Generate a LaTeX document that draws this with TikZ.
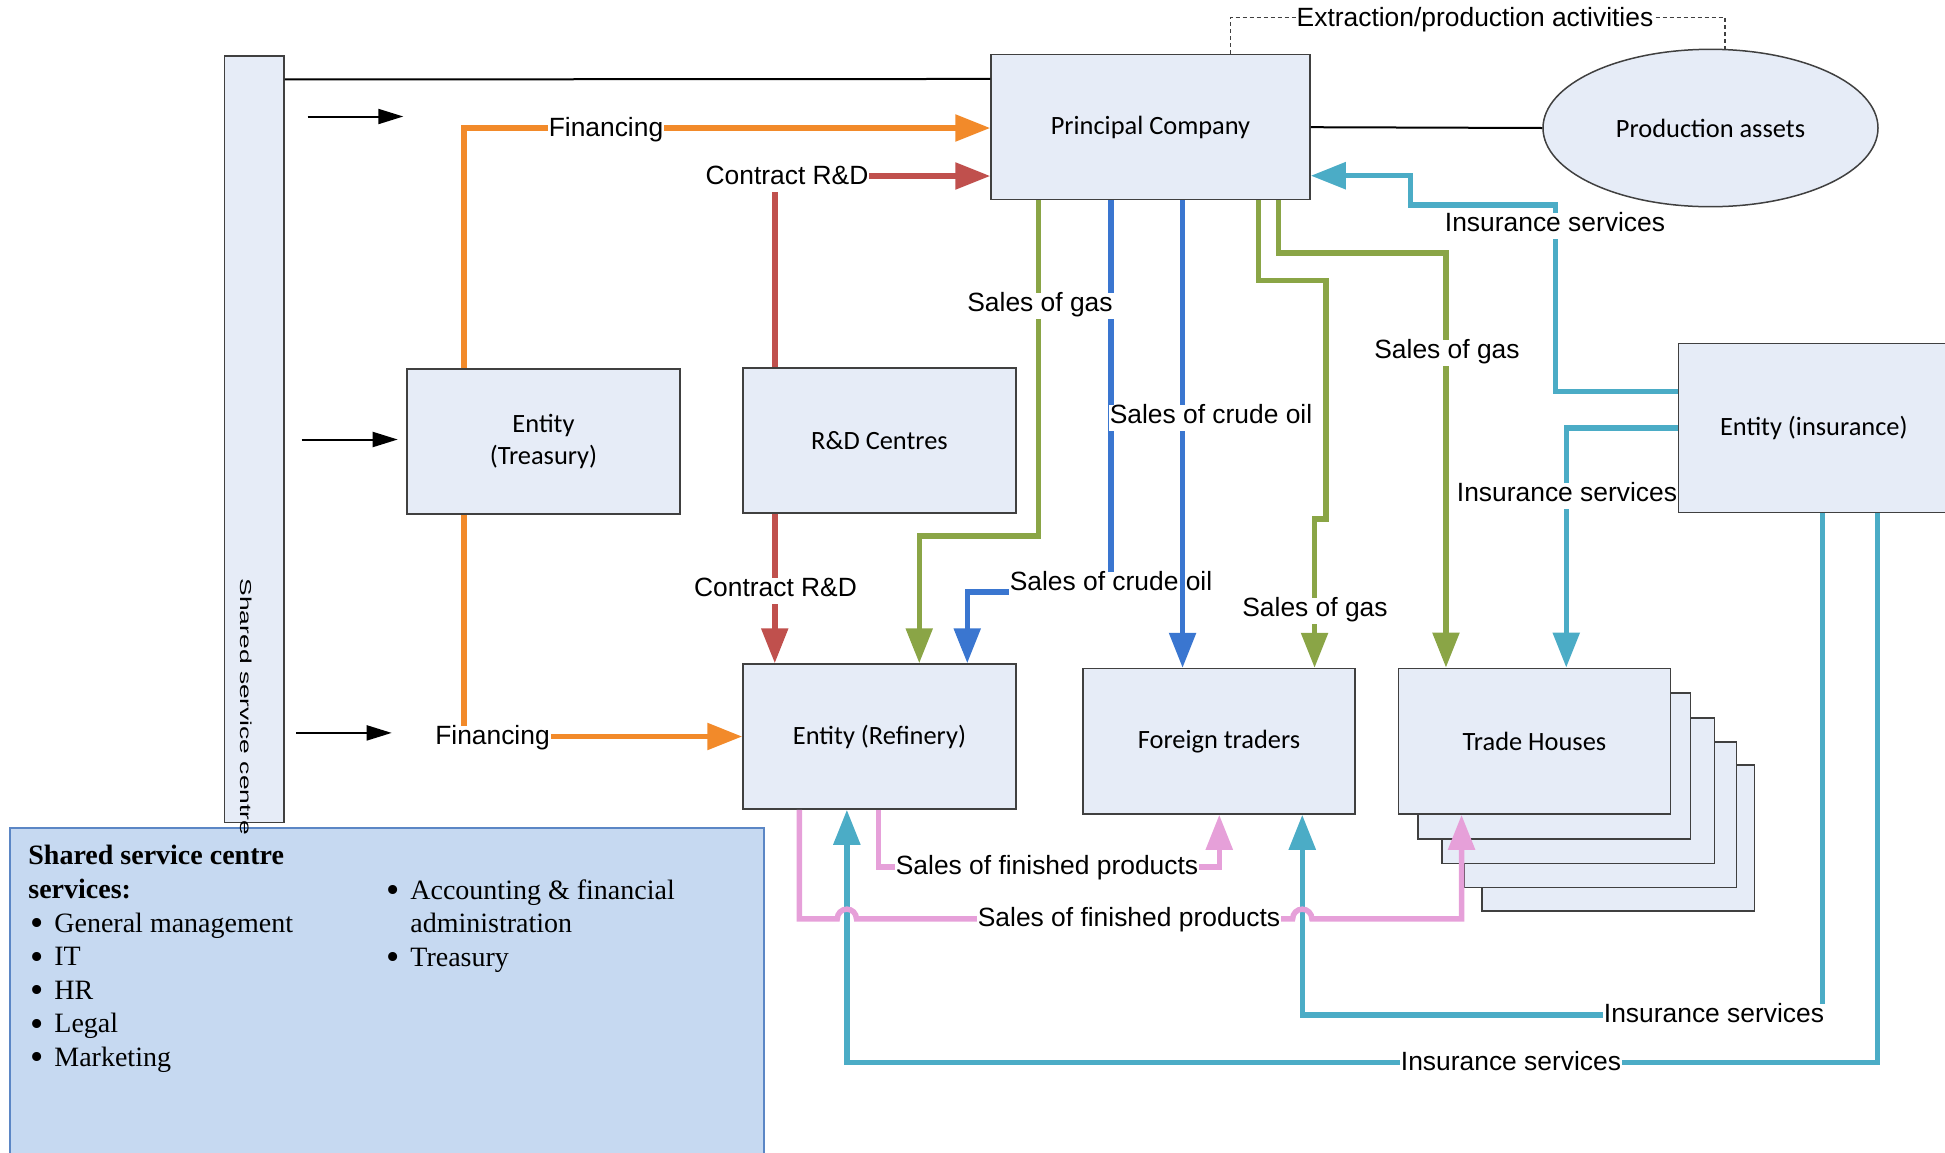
\documentclass[tikz,border=0pt]{standalone}
\usepackage{fontspec}
\setmainfont{Liberation Serif}
\newfontfamily\lblfont{Liberation Sans}
\newfontfamily\boxfont{Carlito}
\usetikzlibrary{arrows.meta,calc,shapes.geometric}
\definecolor{boxfill}{HTML}{E6ECF7}
\definecolor{boxline}{HTML}{404040}
\definecolor{cfin}{HTML}{F28A2A}
\definecolor{crnd}{HTML}{C0504D}
\definecolor{cgas}{HTML}{8AA546}
\definecolor{coil}{HTML}{3A76D0}
\definecolor{cins}{HTML}{4BACC6}
\definecolor{cfp}{HTML}{E6A0D9}
\definecolor{sscfill}{HTML}{C6D9F1}
\definecolor{sscline}{HTML}{5B86C5}
\newcommand\sscb{\hspace*{1pt}\makebox[12pt][l]{\smash{\raisebox{-1.7pt}{\scalebox{1.35}{\textbullet}}}}}
\begin{document}
\begin{tikzpicture}[x=0.5pt,y=-0.5pt,
  box/.style={draw=boxline, line width=0.75pt, fill=boxfill, inner sep=0pt, align=center,
    font=\boxfont\fontsize{13.2}{15.8}\selectfont},
  lbl/.style={fill=white, inner xsep=0.5pt, inner ysep=2pt, text height=0.72em, text depth=0.2em,
    font=\lblfont\fontsize{13.2}{15.8}\selectfont},
  conn/.style={line width=2.75pt, -{Triangle[length=17.5pt,width=13pt]}},
  fin/.style={conn, draw=cfin},
  rnd/.style={conn, draw=crnd},
  gas/.style={conn, draw=cgas},
  oil/.style={conn, draw=coil},
  ins/.style={conn, draw=cins},
  fp/.style={conn, draw=cfp},
  blk/.style={line width=1pt, -{Triangle[length=12.5pt,width=7.5pt]}},
  thinln/.style={line width=1pt, draw=black},
  dsh/.style={line width=0.6pt, draw=boxline, dash pattern=on 2pt off 1.5pt}
]
\useasboundingbox (0,0) rectangle (1945,1152);

% shapes
\node[box, minimum width=29.75pt, minimum height=383.3pt] (bar) at (254.25,439.1) {};
\node[box, minimum width=159.5pt, minimum height=72.5pt] (pc) at (1150.5,127.2) {Principal Company};
\node[ellipse, draw=boxline, line width=0.75pt, fill=boxfill, inner sep=0pt,
  minimum width=167.5pt, minimum height=78.7pt, font=\boxfont\fontsize{13.2}{15.8}\selectfont] (pa) at (1710.5,128) {Production assets};
\node[box, minimum width=136.5pt, minimum height=72.5pt] (treas) at (543.5,441.5) {Entity\\(Treasury)};
\node[box, minimum width=136.5pt, minimum height=72.5pt] (rd) at (879.5,440.5) {R\&D Centres};
\node[box, minimum width=136.5pt, minimum height=72.5pt] (ref) at (879.5,736.5) {Entity (Refinery)};
\node[box, minimum width=136pt, minimum height=72.7pt] (ft) at (1219,741.3) {Foreign traders};
\node[box, anchor=north west, minimum width=136.2pt, minimum height=72.85pt] (th5) at (1481.3,764.3) {};
\node[box, anchor=north west, minimum width=136.2pt, minimum height=72.85pt] (th4) at (1463.5,741) {};
\node[box, anchor=north west, minimum width=136.2pt, minimum height=72.85pt] (th3) at (1441.3,717) {};
\node[box, anchor=north west, minimum width=136.2pt, minimum height=72.85pt] (th2) at (1417.3,692.3) {};
\node[box, minimum width=136.2pt, minimum height=72.85pt] (th) at (1534.5,741.2) {Trade Houses};
\node[box, minimum width=135.5pt, minimum height=84.5pt] (ins) at (1813.8,428.2) {Entity (insurance)};

% shared service centre box
\node[draw=sscline, line width=1pt, fill=sscfill, anchor=north west, inner sep=0pt,
  minimum width=376.85pt, minimum height=166.4pt] (ssc) at (9,827.3) {};
\node[anchor=north west, inner sep=0pt, align=left, font=\fontsize{14}{16.8}\selectfont] (sscl) at (28,845) {%
\textbf{Shared service centre}\\
\textbf{services:}\\
\sscb General management\\
\sscb IT\\
\sscb HR\\
\sscb Legal\\
\sscb Marketing};
\node[anchor=north west, inner sep=0pt, align=left, font=\fontsize{14}{16.8}\selectfont] (sscr) at (384,879) {%
\sscb Accounting \& financial\\
\hspace*{13pt}administration\\
\sscb Treasury};
\node[inner sep=0pt, rotate=-90, font=\lblfont\fontsize{13.2}{15}\selectfont] (bartxt) at (246,707) {\scalebox{1}[0.6]{Shared service centre}};

% thin lines
\draw[thinln] ($(bar.north east)+(0,24.4)$) -- ($(pc.north west)+(0,25)$);
\draw[thinln] (pc.east) -- (pa.west);
\draw[dsh] ($(pc.north west)+(240,0)$) -- ++(0,-36.6) -| ($(pa.north)+(14.5,0)$);

% black arrows from the bar
\coordinate (a1s) at (307.7,116.5); \coordinate (a1e) at (403.3,116.5);
\coordinate (a2s) at (301.7,439.5); \coordinate (a2e) at (397.7,439.5);
\coordinate (a3s) at (296,732.9);   \coordinate (a3e) at (391.7,732.9);
\draw[blk] (a1s) -- (a1e);
\draw[blk] (a2s) -- (a2e);
\draw[blk] (a3s) -- (a3e);

% connectors
\draw[fin] ($(treas.north west)+(57.5,0)$) |- ($(pc.west)+(0,0.8)$);
\draw[rnd] ($(rd.north west)+(32.5,0)$) |- ($(pc.west)+(0,48.8)$);
\draw[fin] ($(treas.south west)+(57.5,0)$) |- (ref.west);
\draw[rnd] ($(rd.south west)+(32.5,0)$) -- ($(ref.north west)+(32.5,0)$);
\draw[gas] ($(pc.south west)+(48.3,0)$) -- ++(0,335.5) -| ($(ref.north west)+(177,0)$);
\draw[oil] ($(pc.south west)+(120.7,0)$) -- ++(0,391.5) -| ($(ref.north west)+(225,0)$);
\draw[gas] ($(pc.south west)+(268.3,0)$) -- ++(0,80) -- ++(67.4,0) -- ++(0,238.3) -| ($(ft.north west)+(232.3,0)$);
\draw[gas] ($(pc.south west)+(288.3,0)$) -- ++(0,52.3) -| ($(th.north west)+(48.4,0)$);
\draw[ins] ($(ins.west)+(0,-36.9)$) -- ++(-122.3,0) -- ++(0,-186.3) -- ++(-145,0) |- ($(pc.east)+(0,48.5)$);
\draw[ins] (ins.west) -| ($(th.north west)+(168.7,0)$);
\draw[ins] ($(ins.south west)+(144.7,0)$) -- ++(0,501.6) -| ($(ft.south west)+(220,0)$);
\draw[ins] ($(ins.south west)+(200,0)$) -- ++(0,549) -| ($(ref.south west)+(104.6,0)$);
\draw[fp] ($(ref.south west)+(136,0)$) -- ++(0,57.25) -| ($(ft.south west)+(137,0)$);
\draw[fp] ($(ref.south west)+(57,0)$) -- ++(0,109) -- ++(38,0)
   arc[start angle=180,end angle=0,radius=4.8pt] -- ++(436.2,0)
   arc[start angle=180,end angle=0,radius=4.8pt] -| ($(th.south west)+(64,0)$);

\node[lbl] (l6) at (1111,585) {Sales of crude oil};
\draw[oil] ($(pc.south west)+(192.3,0)$) -- ($(ft.north west)+(100.3,0)$);

% labels
\node[lbl] (l1) at (606,131) {Financing};
\node[lbl] (l2) at (787,179) {Contract R\&D};
\node[lbl] (l3) at (492.5,739) {Financing};
\node[lbl] (l4) at (775.5,591) {Contract R\&D};
\node[lbl] (l5) at (1040,306) {Sales of gas};
\node[lbl] (l7) at (1211,418) {Sales of crude oil};
\node[lbl] (l8) at (1315,611) {Sales of gas};
\node[lbl] (l9) at (1447,353) {Sales of gas};
\node[lbl] (l10) at (1555,226) {Insurance services};
\node[lbl] (l11) at (1567,496) {Insurance services};
\node[lbl] (l12) at (1714,1017) {Insurance services};
\node[lbl] (l13) at (1511,1065) {Insurance services};
\node[lbl] (l14) at (1047,869) {Sales of finished products};
\node[lbl] (l15) at (1129,921) {Sales of finished products};
\node[lbl] (l16) at (1475,21) {Extraction/production activities};
\end{tikzpicture}
\end{document}
